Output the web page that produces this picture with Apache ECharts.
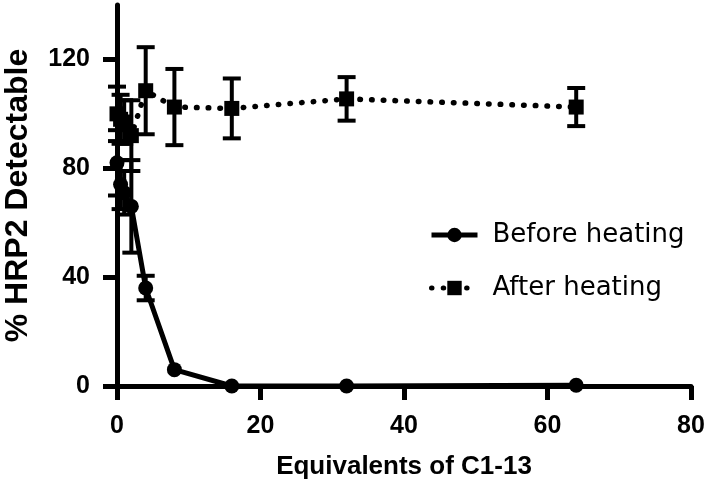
<!DOCTYPE html>
<html><head><meta charset="utf-8">
<script src="https://cdn.jsdelivr.net/npm/echarts@6/dist/echarts.min.js"></script>
<style>html,body{margin:0;padding:0;background:#fff}#c{width:706px;height:495px}</style>
</head><body><div id="c"></div>
<script>
const xValues = [0, 0.5, 1, 2, 4, 8, 16, 32, 64];
const beforeMean = [82, 74, 71, 66, 36, 6, 0, 0, 0.3];
const beforeErr  = [12, 9, 8, 17, 4.5, 0, 0, 0, 0];
const afterMean  = [100, 98, 97, 92, 108.5, 102.5, 102, 105.5, 102.5];
const afterErr   = [10, 9, 8, 13, 16, 14, 11, 8, 7];
const xTicks = [0, 20, 40, 60, 80];
const yTicks = [0, 40, 80, 120];
const seriesNames = ['Before heating', 'After heating'];

const beforeData = xValues.map((x, i) => [x, beforeMean[i]]);
const afterData = xValues.map((x, i) => [x, afterMean[i]]);
const beforeErrData = xValues.map((x, i) => [x, beforeMean[i] - beforeErr[i], beforeMean[i] + beforeErr[i]]);
const afterErrData = xValues.map((x, i) => [x, afterMean[i] - afterErr[i], afterMean[i] + afterErr[i]]);

function errRender(params, api) {
  const x = api.value(0), lo = api.value(1), hi = api.value(2);
  if (hi - lo <= 0) return null;
  const pLo = api.coord([x, lo]);
  const pHi = api.coord([x, hi]);
  const hw = 9;
  const style = { stroke: '#000', lineWidth: 4, fill: null };
  return {
    type: 'group',
    children: [
      { type: 'line', shape: { x1: pLo[0], y1: pLo[1], x2: pHi[0], y2: pHi[1] }, style },
      { type: 'line', shape: { x1: pLo[0] - hw, y1: pLo[1], x2: pLo[0] + hw, y2: pLo[1] }, style },
      { type: 'line', shape: { x1: pHi[0] - hw, y1: pHi[1], x2: pHi[0] + hw, y2: pHi[1] }, style }
    ]
  };
}

const chart = echarts.init(document.getElementById('c'));
const axisLine = { show: true, lineStyle: { color: '#000', width: 5 } };
chart.setOption({
  animation: false,
  backgroundColor: '#fff',
  grid: { left: 117, right: 15, top: 5, bottom: 109, outerBoundsMode: 'none', containLabel: false },
  legend: {
    orient: 'vertical', left: 424, top: 217, itemGap: 27,
    itemWidth: 46, itemHeight: 18,
    lineStyle: { width: 5 },
    textStyle: { fontFamily: 'DejaVu Sans', fontSize: 26, color: '#000', padding: [0, 0, 0, 10] },
    data: seriesNames
  },
  xAxis: {
    type: 'value', min: 0, max: 80, interval: 20,
    axisLine, splitLine: { show: false },
    axisTick: { show: true, length: 14, lineStyle: { width: 5, color: '#000' }, customValues: xTicks },
    axisLabel: { customValues: xTicks, margin: 28, color: '#000', fontFamily: 'Liberation Sans', fontWeight: 'bold', fontSize: 25 },
    name: 'Equivalents of C1-13', nameLocation: 'middle', nameGap: 68,
    nameTextStyle: { color: '#000', fontFamily: 'Liberation Sans', fontWeight: 'bold', fontSize: 26 }
  },
  yAxis: {
    type: 'value', min: 0, max: 140, interval: 40,
    axisLine, splitLine: { show: false },
    axisTick: { show: true, length: 14, lineStyle: { width: 5, color: '#000' }, customValues: yTicks },
    axisLabel: { customValues: yTicks, margin: 27, color: '#000', fontFamily: 'Liberation Sans', fontWeight: 'bold', fontSize: 25 },
    name: '% HRP2 Detectable', nameLocation: 'middle', nameGap: 83, nameRotate: 90,
    nameTextStyle: { color: '#000', fontFamily: 'Liberation Sans', fontWeight: 'bold', fontSize: 32 }
  },
  series: [
    {
      name: seriesNames[0], type: 'line', data: beforeData,
      symbol: 'circle', symbolSize: 15,
      itemStyle: { color: '#000' },
      lineStyle: { color: '#000', width: 5 }, z: 3
    },
    {
      name: seriesNames[1], type: 'line', data: afterData,
      symbol: 'rect', symbolSize: 15,
      itemStyle: { color: '#000' },
      lineStyle: { color: '#000', width: 5.5, type: [0.5, 11.2], cap: 'round' }, z: 3
    },
    { type: 'custom', renderItem: errRender, data: beforeErrData, encode: { x: 0, y: [1, 2] }, z: 2, silent: true },
    { type: 'custom', renderItem: errRender, data: afterErrData, encode: { x: 0, y: [1, 2] }, z: 2, silent: true }
  ]
});
</script></body></html>
